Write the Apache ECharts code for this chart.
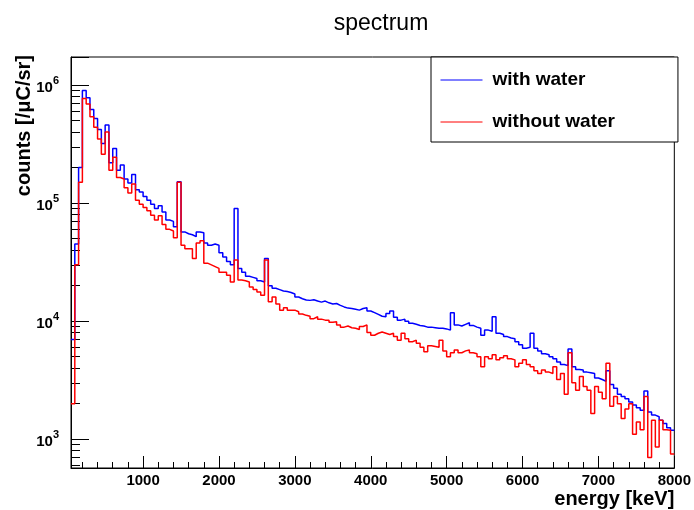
<!DOCTYPE html>
<html>
<head>
<meta charset="utf-8">
<script src="https://cdn.jsdelivr.net/npm/echarts@6/dist/echarts.min.js"></script>
<style>
  html, body { margin: 0; padding: 0; background: #fff; }
  #chart { width: 694px; height: 510px; }
</style>
</head>
<body>
<div id="chart"></div>
<script>
// histogram bins are 50 keV wide, first bin starts at 50 keV
const binStart = 50
const binWidth = 50

// counts per bin, one row = 500 keV
const withWater = [
  7000, 45000, 200000, 900000, 780000, 620000, 520000, 420000, 320000, 460000,
  220000, 290000, 190000, 210000, 160000, 148000, 175000, 130000, 124000, 114000,
  106000, 98000, 90000, 95000, 84000, 72000, 70000, 63000, 152000, 57000,
  55000, 54000, 52000, 57000, 56000, 46000, 44000, 45000, 44000, 38000,
  35000, 32000, 30000, 90000, 28000, 26000, 24000, 23500, 23000, 22000,
  21500, 34000, 20000, 19000, 18500, 18000, 17800, 17500, 17000, 16000,
  15500, 15100, 15000, 15200, 14800, 14500, 14800, 14300, 14000, 14100,
  13600, 13200, 12900, 12800, 12600, 12400, 12800, 13000, 12200, 11800,
  11400, 11000, 10900, 11600, 12200, 10800, 10200, 10400, 10000, 9600,
  9400, 9200, 9100, 8900, 8900, 8800, 8700, 8700, 8600, 8400,
  11800, 9300, 9100, 9400, 9700, 9200, 8900, 8700, 7600, 8400,
  8200, 10900, 7900, 7700, 7400, 7200, 7100, 6700, 6300, 5900,
  6000, 7900, 5900, 5600, 5300, 5200, 5000, 4800, 4500, 4300,
  4200, 5800, 4100, 3900, 3850, 3700, 3650, 3600, 3300, 3200,
  3100, 3800, 2900, 2700, 2400, 2300, 2200, 2070, 1950, 1850,
  1760, 2560, 1700, 1600, 1550, 1450, 1360, 1250, 1190
]
const withoutWater = [
  2000, 30000, 150000, 770000, 690000, 540000, 440000, 350000, 260000, 400000,
  190000, 245000, 165000, 160000, 135000, 122000, 145000, 106000, 98000, 92000,
  86000, 79000, 72000, 78000, 66000, 60000, 58000, 51000, 150000, 44000,
  41000, 41000, 34000, 46000, 48000, 31000, 30000, 29000, 28000, 26000,
  26000, 24500, 21500, 33000, 22300, 22000, 21500, 19500, 18500, 17700,
  16600, 33000, 14600, 16000, 14000, 12400, 13000, 12400, 12400, 12000,
  11500, 11200, 11000, 10500, 10900, 10400, 10200, 10200, 9800, 9900,
  9300, 8900, 9100, 8800, 8700, 8500, 9000, 9300, 8000, 7600,
  7900, 8100, 7900, 7700, 7900, 7400, 6900, 7900, 7100, 6700,
  6900, 6500, 6000, 5500, 6200, 6100, 6000, 6900, 5600, 5000,
  5400, 5700, 5400, 5600, 5700, 5400, 5300, 5000, 4100, 5000,
  4800, 5200, 4700, 4900, 5100, 4800, 4700, 4100, 4400, 4700,
  4300, 4100, 3800, 3600, 3850, 3700, 3600, 4100, 3200, 3600,
  2400, 5400, 3000, 2600, 3400, 2800, 2600, 1650, 2800, 2500,
  2200, 4400, 1900, 2300, 2000, 1500, 1800, 2000, 1100, 1400,
  1200, 2300, 700, 1450, 860, 1450, 1200, 1190, 750
]

const xMajorTicks = [1000, 2000, 3000, 4000, 5000, 6000, 7000, 8000]
const xMinorTicks = []
for (let e = 200; e < 8000; e += 200) xMinorTicks.push(e)

const font = 'Liberation Sans'

// step histogram: one point per lower bin edge, plus the closing upper edge
function histo(values) {
  const pts = values.map((v, i) => [binStart + i * binWidth, v])
  pts.push([binStart + values.length * binWidth, values[values.length - 1]])
  return pts
}

const myChart = echarts.init(document.getElementById('chart'), null, {renderer: 'canvas'})

const option = {
  animation: false,
  backgroundColor: '#fff',
  title: {
    text: 'spectrum',
    left: 376,
    top: 7,
    textAlign: 'center',
    textStyle: {fontFamily: font, fontWeight: 'normal', fontSize: 23, color: '#000'}
  },
  legend: {
    orient: 'vertical',
    left: 431,
    top: 57,
    padding: [13, 63, 10, 9],
    itemGap: 22,
    itemWidth: 42,
    itemHeight: 20,
    backgroundColor: '#fff',
    borderColor: '#000',
    borderWidth: 1,
    borderRadius: 0,
    selectedMode: false,
    lineStyle: {width: 1},
    itemStyle: {opacity: 0},
    textStyle: {fontFamily: font, fontWeight: 'bold', fontSize: 19, color: '#000', lineHeight: 20, padding: [0, 0, 0, 5]},
    data: ['with water', 'without water']
  },
  grid: {
    left: 71,
    right: 17,
    top: 57,
    bottom: 42,
    show: true,
    borderColor: '#000',
    borderWidth: 1,
    backgroundColor: 'transparent'
  },
  xAxis: [{
    type: 'value',
    min: 50,
    max: 8000,
    position: 'bottom',
    name: 'energy [keV]',
    nameLocation: 'end',
    nameGap: 0,
    nameTextStyle: {
      fontFamily: font, fontWeight: 'bold', fontSize: 20, color: '#000',
      align: 'right', verticalAlign: 'top', padding: [21, 0, 0, 0]
    },
    axisLine: {onZero: false, lineStyle: {color: '#000', width: 1}},
    axisTick: {inside: true, length: 12, customValues: xMajorTicks, lineStyle: {color: '#000'}},
    axisLabel: {
      customValues: xMajorTicks,
      margin: 5,
      formatter: v => String(v),
      fontFamily: font, fontWeight: 'bold', fontSize: 15, color: '#000'
    },
    splitLine: {show: false}
  }, {
    type: 'value',
    min: 50,
    max: 8000,
    position: 'bottom',
    axisLine: {show: false},
    axisLabel: {show: false},
    splitLine: {show: false},
    axisTick: {inside: true, length: 6, customValues: xMinorTicks, lineStyle: {color: '#000'}}
  }],
  yAxis: {
    type: 'log',
    logBase: 10,
    min: 570,
    max: 1730000,
    axisLine: {show: true, lineStyle: {color: '#000', width: 1}},
    axisTick: {inside: true, length: 18, lineStyle: {color: '#000'}},
    minorTick: {show: true, splitNumber: 9, length: 9, lineStyle: {color: '#000'}},
    splitLine: {show: false},
    axisLabel: {
      margin: 12,
      formatter: function (v) {
        const n = Math.round(Math.log10(v))
        if (Math.abs(Math.log10(v) - n) > 1e-6) return ''
        return '{b|10}{s|' + n + '}'
      },
      rich: {
        b: {fontFamily: font, fontWeight: 'bold', fontSize: 15, color: '#000', lineHeight: 20, verticalAlign: 'bottom'},
        s: {fontFamily: font, fontWeight: 'bold', fontSize: 11, color: '#000', lineHeight: 10, verticalAlign: 'top'}
      }
    }
  },
  graphic: [{
    type: 'text',
    x: 24,
    y: 55,
    rotation: Math.PI / 2,
    style: {
      text: 'counts [/μC/sr]',
      font: 'bold 20px "Liberation Sans"',
      fill: '#000',
      align: 'right',
      verticalAlign: 'middle'
    }
  }],
  series: [{
    name: 'with water',
    type: 'line',
    step: 'end',
    symbol: 'none',
    data: histo(withWater),
    lineStyle: {color: '#0000ff', width: 1.5},
    itemStyle: {color: '#0000ff'},
    z: 2
  }, {
    name: 'without water',
    type: 'line',
    step: 'end',
    symbol: 'none',
    data: histo(withoutWater),
    lineStyle: {color: '#ff0000', width: 1.5},
    itemStyle: {color: '#ff0000'},
    z: 3
  }]
}

myChart.setOption(option)
</script>
</body>
</html>
